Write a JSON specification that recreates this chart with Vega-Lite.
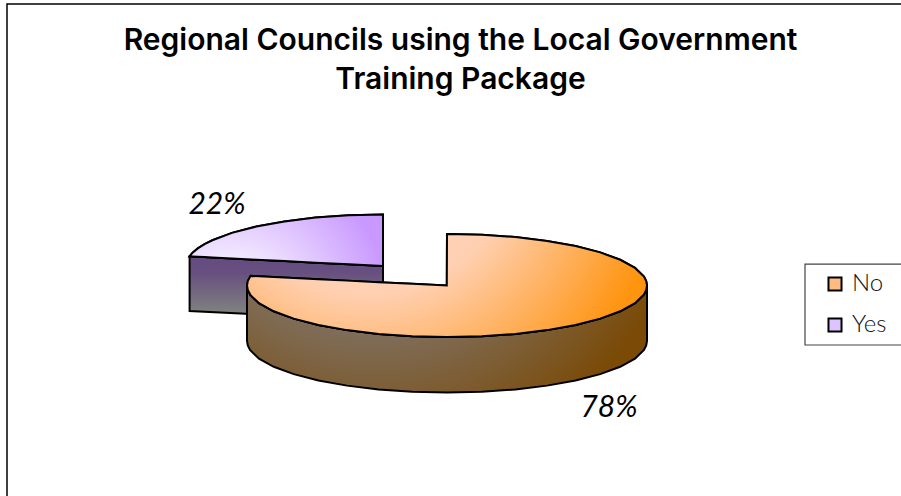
{
  "$schema": "https://vega.github.io/schema/vega-lite/v6.json",
  "width": 901,
  "height": 496,
  "padding": 0,
  "autosize": {"type": "none"},
  "background": "white",
  "config": {"view": {"stroke": null}},
  "title": {
    "text": ["Regional Councils using the Local Government", "Training Package"],
    "orient": "top",
    "anchor": "middle",
    "frame": "group",
    "offset": -119,
    "dx": 10,
    "font": "Inter",
    "fontSize": 30,
    "fontWeight": 600,
    "lineHeight": 39,
    "color": "#000000",
    "baseline": "alphabetic"
  },
  "datasets": {
    "frame": [
      {"name": "chart", "x": -2.2, "x2": 2.5, "y": 5.466, "y2": -5},
      {"name": "legend", "x": 1.79, "x2": 2.5, "y": 0.417, "y2": -1.155}
    ],
    "shares": [
      {"slice": "Yes", "share": 0.22, "x": -1.15, "y": 1.388},
      {"slice": "No", "share": 0.78, "x": 0.81, "y": -2.553}
    ],
    "yesWall": [
      {"x": -1.287, "y": 0.566, "y2": -0.494},
      {"x": -0.32, "y": 0.379, "y2": -0.681}
    ],
    "yesTop": [
      {"slice": "Yes", "x": -1.287, "y": 0.566, "y2": 0.566},
      {"slice": "Yes", "x": -1.272, "y": 0.638, "y2": 0.563},
      {"slice": "Yes", "x": -1.246, "y": 0.721, "y2": 0.558},
      {"slice": "Yes", "x": -1.212, "y": 0.802, "y2": 0.552},
      {"slice": "Yes", "x": -1.173, "y": 0.879, "y2": 0.544},
      {"slice": "Yes", "x": -1.075, "y": 1.022, "y2": 0.525},
      {"slice": "Yes", "x": -0.953, "y": 1.145, "y2": 0.501},
      {"slice": "Yes", "x": -0.8125, "y": 1.245, "y2": 0.474},
      {"slice": "Yes", "x": -0.657, "y": 1.319, "y2": 0.444},
      {"slice": "Yes", "x": -0.491, "y": 1.364, "y2": 0.412},
      {"slice": "Yes", "x": -0.32, "y": 1.379, "y2": 0.379}
    ],
    "noRim": [
      {"x": -1, "y": 0, "y2": -1.078},
      {"x": -0.996, "y": -0.087, "y2": -1.165},
      {"x": -0.985, "y": -0.174, "y2": -1.252},
      {"x": -0.94, "y": -0.342, "y2": -1.42},
      {"x": -0.866, "y": -0.5, "y2": -1.578},
      {"x": -0.766, "y": -0.643, "y2": -1.721},
      {"x": -0.643, "y": -0.766, "y2": -1.844},
      {"x": -0.5, "y": -0.866, "y2": -1.944},
      {"x": -0.342, "y": -0.94, "y2": -2.018},
      {"x": -0.174, "y": -0.985, "y2": -2.063},
      {"x": 0, "y": -1, "y2": -2.078},
      {"x": 0.174, "y": -0.985, "y2": -2.063},
      {"x": 0.342, "y": -0.94, "y2": -2.018},
      {"x": 0.5, "y": -0.866, "y2": -1.944},
      {"x": 0.643, "y": -0.766, "y2": -1.844},
      {"x": 0.766, "y": -0.643, "y2": -1.721},
      {"x": 0.866, "y": -0.5, "y2": -1.578},
      {"x": 0.94, "y": -0.342, "y2": -1.42},
      {"x": 0.985, "y": -0.174, "y2": -1.252},
      {"x": 0.996, "y": -0.087, "y2": -1.165},
      {"x": 1, "y": 0, "y2": -1.078}
    ],
    "noTop": [
      {"slice": "No", "x": -1, "y": 0, "y2": 0},
      {"slice": "No", "x": -0.996, "y": 0.087, "y2": -0.087},
      {"slice": "No", "x": -0.982, "y": 0.187, "y2": -0.187},
      {"slice": "No", "x": -0.94, "y": 0.179, "y2": -0.342},
      {"slice": "No", "x": -0.866, "y": 0.165, "y2": -0.5},
      {"slice": "No", "x": -0.766, "y": 0.146, "y2": -0.643},
      {"slice": "No", "x": -0.643, "y": 0.122, "y2": -0.766},
      {"slice": "No", "x": -0.5, "y": 0.095, "y2": -0.866},
      {"slice": "No", "x": -0.342, "y": 0.065, "y2": -0.94},
      {"slice": "No", "x": -0.174, "y": 0.033, "y2": -0.985},
      {"slice": "No", "x": -0.001, "y": 0, "y2": -1},
      {"slice": "No", "x": 0, "y": 1, "y2": -1},
      {"slice": "No", "x": 0.174, "y": 0.985, "y2": -0.985},
      {"slice": "No", "x": 0.342, "y": 0.94, "y2": -0.94},
      {"slice": "No", "x": 0.5, "y": 0.866, "y2": -0.866},
      {"slice": "No", "x": 0.643, "y": 0.766, "y2": -0.766},
      {"slice": "No", "x": 0.766, "y": 0.643, "y2": -0.643},
      {"slice": "No", "x": 0.866, "y": 0.5, "y2": -0.5},
      {"slice": "No", "x": 0.94, "y": 0.342, "y2": -0.342},
      {"slice": "No", "x": 0.985, "y": 0.174, "y2": -0.174},
      {"slice": "No", "x": 0.996, "y": 0.087, "y2": -0.087},
      {"slice": "No", "x": 1, "y": 0, "y2": 0}
    ]
  },
  "encoding": {
    "x": {"field": "x", "type": "quantitative", "axis": null, "scale": {"domain": [-2.235, 2.27], "nice": false, "zero": false}},
    "y": {"field": "y", "type": "quantitative", "axis": null, "scale": {"domain": [-4.087, 5.544], "nice": false, "zero": false}}
  },
  "layer": [
    {
      "data": {"name": "frame"},
      "transform": [{"filter": "datum.name === 'chart'"}],
      "mark": {"type": "rect", "fill": "white", "stroke": "#000000", "strokeWidth": 1.5},
      "encoding": {"x2": {"field": "x2"}, "y2": {"field": "y2"}}
    },
    {
      "data": {"name": "frame"},
      "transform": [{"filter": "datum.name === 'legend'"}],
      "mark": {"type": "rect", "fill": "white", "stroke": "#444444", "strokeWidth": 1.2},
      "encoding": {"x2": {"field": "x2"}, "y2": {"field": "y2"}}
    },
    {
      "data": {"name": "yesWall"},
      "mark": {
        "type": "area",
        "orient": "vertical",
        "stroke": "#000000",
        "strokeWidth": 2,
        "fill": {
          "gradient": "linear", "x1": 0, "y1": 0, "x2": 0, "y2": 1,
          "stops": [{"offset": 0, "color": "#654B80"}, {"offset": 0.25, "color": "#674F80"}, {"offset": 0.85, "color": "#7F7F7F"}, {"offset": 1, "color": "#7F7F7F"}]
        }
      },
      "encoding": {"y2": {"field": "y2"}}
    },
    {
      "data": {"name": "yesTop"},
      "mark": {"type": "area", "orient": "vertical", "stroke": "#000000", "strokeWidth": 2},
      "encoding": {
        "y2": {"field": "y2"},
        "fill": {
          "field": "slice",
          "type": "nominal",
          "scale": {"domain": ["No", "Yes"], "range": ["#FFBB80", "#DDC4FF"]},
          "legend": {
            "orient": "none",
            "legendX": 823,
            "legendY": 272,
            "title": null,
            "symbolType": "square",
            "symbolSize": 170,
            "symbolStrokeColor": "#000000",
            "symbolStrokeWidth": 2,
            "labelFont": "Lato",
            "labelFontSize": 24,
            "labelFontWeight": 300,
            "labelColor": "#111111",
            "labelOffset": 5,
            "rowPadding": 17,
            "padding": 0
          }
        }
      }
    },
    {
      "data": {"name": "yesTop"},
      "mark": {
        "type": "area",
        "orient": "vertical",
        "stroke": "#000000",
        "strokeWidth": 2,
        "fill": {
          "gradient": "radial", "x1": 0.2, "y1": 0.9, "r1": 0, "x2": 0.2, "y2": 0.9, "r2": 0.85,
          "stops": [{"offset": 0, "color": "#FFFFFF"}, {"offset": 0.35, "color": "#F3EAFF"}, {"offset": 1, "color": "#C999FF"}]
        }
      },
      "encoding": {"y2": {"field": "y2"}}
    },
    {
      "data": {"name": "noRim"},
      "mark": {
        "type": "area",
        "orient": "vertical",
        "stroke": "#000000",
        "strokeWidth": 2,
        "fill": {
          "gradient": "radial", "x1": 0.32, "y1": 0.02, "r1": 0, "x2": 0.32, "y2": 0.02, "r2": 0.8,
          "stops": [{"offset": 0, "color": "#808078"}, {"offset": 0.5, "color": "#80746A"}, {"offset": 1, "color": "#7A4A06"}]
        }
      },
      "encoding": {"y2": {"field": "y2"}}
    },
    {
      "data": {"name": "noTop"},
      "mark": {"type": "area", "orient": "vertical", "stroke": "#000000", "strokeWidth": 2},
      "encoding": {
        "y2": {"field": "y2"},
        "fill": {"field": "slice", "type": "nominal"}
      }
    },
    {
      "data": {"name": "noTop"},
      "mark": {
        "type": "area",
        "orient": "vertical",
        "stroke": "#000000",
        "strokeWidth": 2,
        "fill": {
          "gradient": "radial", "x1": 0.3, "y1": 0.15, "r1": 0, "x2": 0.3, "y2": 0.15, "r2": 0.75,
          "stops": [{"offset": 0, "color": "#FFE0CC"}, {"offset": 0.5, "color": "#FFCFB0"}, {"offset": 1, "color": "#FF9410"}]
        }
      },
      "encoding": {"y2": {"field": "y2"}}
    },
    {
      "data": {"name": "shares"},
      "mark": {"type": "text", "font": "Lato", "fontSize": 30, "fontStyle": "italic", "color": "#000000", "baseline": "alphabetic", "align": "center"},
      "encoding": {
        "text": {"field": "share", "type": "quantitative", "format": ".0%"}
      }
    }
  ]
}
